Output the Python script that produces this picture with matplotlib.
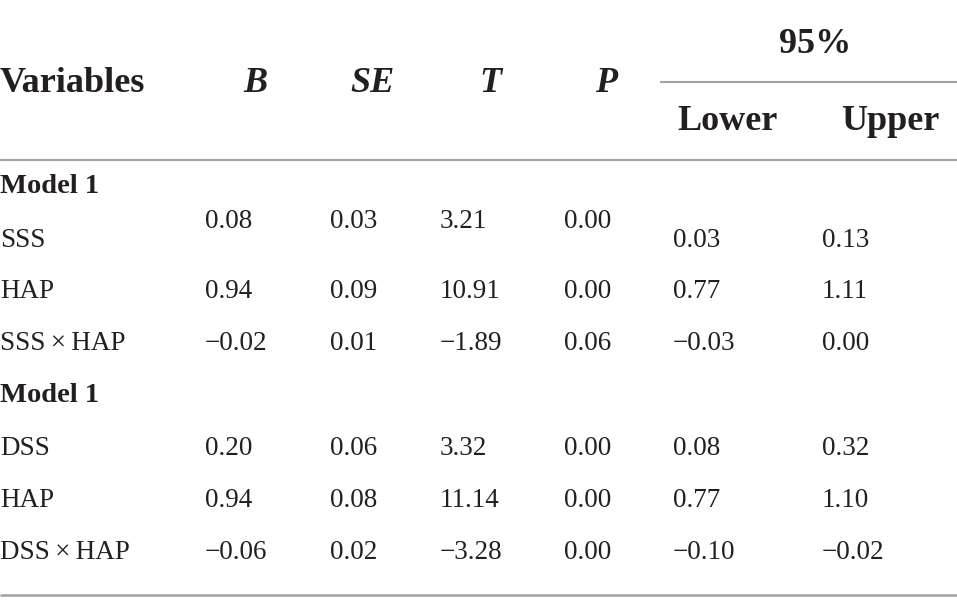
import matplotlib
matplotlib.use("Agg")
import matplotlib.pyplot as plt

plt.rcParams['font.family'] = ['Liberation Serif', 'DejaVu Serif']

# --- table data ---
headers   = ["Variables", "B", "SE", "T", "P"]
ci_title  = "95%"
ci_heads  = ["Lower", "Upper"]

row_labels = ["Model 1", "SSS", "HAP", "SSS\u2009×\u2009HAP",
              "Model 1", "DSS", "HAP", "DSS\u2009×\u2009HAP"]
is_section = [True, False, False, False, True, False, False, False]
B_vals  = ["", "0.08", "0.94", "−0.02", "", "0.20", "0.94", "−0.06"]
SE_vals = ["", "0.03", "0.09", "0.01", "", "0.06", "0.08", "0.02"]
T_vals  = ["", "3.21", "10.91", "−1.89", "", "3.32", "11.14", "−3.28"]
P_vals  = ["", "0.00", "0.00", "0.06", "", "0.00", "0.00", "0.00"]
lower   = ["", "0.03", "0.77", "−0.03", "", "0.08", "0.77", "−0.10"]
upper   = ["", "0.13", "1.11", "0.00", "", "0.32", "1.10", "−0.02"]

W, H = 957, 613
TXT = "#231f20"
LINE = "#a3a3a3"

fig = plt.figure(figsize=(W / 100, H / 100), dpi=100)
ax = fig.add_axes([0, 0, 1, 1])
ax.set_xlim(0, W)
ax.set_ylim(H, 0)
ax.axis("off")

# header
hfs = 26
ax.text(0, 92, headers[0], fontsize=hfs, fontweight="bold", color=TXT, va="baseline")
for name, xc in zip(headers[1:], [255, 372, 490, 606]):
    ax.text(xc, 92, name, fontsize=hfs, fontweight="bold", style="italic",
            color=TXT, ha="center", va="baseline")
ax.text(815, 53, ci_title, fontsize=hfs, fontweight="bold", color=TXT,
        ha="center", va="baseline")
for name, xc in zip(ci_heads, [728, 890]):
    ax.text(xc, 130, name, fontsize=hfs, fontweight="bold", color=TXT,
            ha="center", va="baseline")

# rules
ax.plot([660, W], [82, 82], color=LINE, lw=1.5, solid_capstyle="butt")
ax.plot([0, W], [160, 160], color=LINE, lw=1.5, solid_capstyle="butt")
ax.plot([0, W], [595, 595], color=LINE, lw=1.8, solid_capstyle="butt")

# body
bfs = 19.5
row_base = [193, 247, 298, 350, 402, 455, 507, 559]
col_x = [205, 330, 440, 564]
for i, lab in enumerate(row_labels):
    yb = row_base[i]
    ax.text(0, yb, lab, fontsize=bfs + (1 if is_section[i] else 0),
            fontweight="bold" if is_section[i] else "normal",
            color=TXT, va="baseline")
    if is_section[i]:
        continue
    # first data row of model 1 has the left block raised
    yl = yb - 19 if i == 1 else yb
    for xv, col in zip(col_x, [B_vals, SE_vals, T_vals, P_vals]):
        ax.text(xv, yl, col[i], fontsize=bfs, color=TXT, va="baseline")
    ax.text(673, yb, lower[i], fontsize=bfs, color=TXT, va="baseline")
    ax.text(822, yb, upper[i], fontsize=bfs, color=TXT, va="baseline")

fig.savefig("out.png", dpi=100, facecolor="white")
